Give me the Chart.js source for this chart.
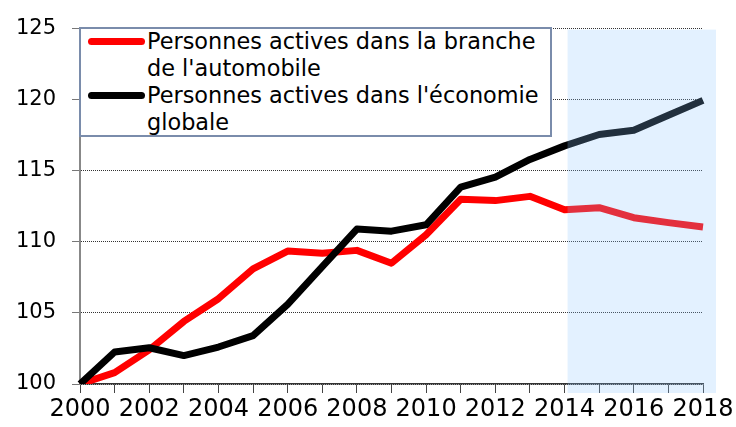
<!DOCTYPE html>
<html>
<head>
<meta charset="utf-8">
<script src="https://cdn.jsdelivr.net/npm/chart.js@4.4.1/dist/chart.umd.min.js"></script>
<style>
    html, body { margin: 0; padding: 0; background: #fff; }
    #wrap { position: relative; width: 736px; height: 427px; }
    #legend {
        position: absolute; left: 79px; top: 27px; width: 473px; height: 110px;
        box-sizing: border-box; border: 2px solid #7a8cab; background: #fff;
        font-family: "DejaVu Sans", sans-serif; font-size: 22.4px; line-height: 27px; color: #000;
    }
    .sw { position: absolute; left: 7px; width: 57px; height: 7px; border-radius: 4px; }
    .txt { position: absolute; left: 66px; white-space: nowrap; }
</style>
</head>
<body>
<div id="wrap">
    <canvas id="chart" width="736" height="427"></canvas>
    <div id="legend"></div>
</div>
<script>
(function () {
    "use strict";

    const years = ["2000", "2001", "2002", "2003", "2004", "2005", "2006", "2007", "2008", "2009",
        "2010", "2011", "2012", "2013", "2014", "2015", "2016", "2017", "2018"];
    const autoValues = [100, 100.8, 102.4, 104.4, 106.0, 108.1, 109.35, 109.2, 109.4, 108.5,
        110.5, 113.0, 112.9, 113.2, 112.25, 112.4, 111.7, 111.35, 111.05];
    const globalValues = [100, 102.25, 102.55, 102.0, 102.6, 103.4, 105.6, 108.25, 110.9, 110.75,
        111.2, 113.85, 114.55, 115.8, 116.75, 117.55, 117.85, 118.9, 119.95];
    const seriesLabels = [
        "Personnes actives dans la branche\nde l'automobile",
        "Personnes actives dans l'économie\nglobale",
    ];
    const seriesColors = ["#ff0000", "#000000"];
    const forecastStart = "2014";
    const forecastEnd = "2018";

    // Legend (html so the labels can wrap on two lines)
    const legendEl = document.getElementById("legend");
    seriesLabels.forEach(function (label, i) {
        const sw = document.createElement("div");
        sw.className = "sw";
        sw.style.background = seriesColors[i];
        sw.style.top = (9 + i * 54) + "px";
        legendEl.appendChild(sw);
        const txt = document.createElement("div");
        txt.className = "txt";
        txt.style.top = (-1 + i * 54) + "px";
        txt.innerHTML = label.split("\n").map(function (s) {
            return s.replace(/&/g, "&amp;").replace(/</g, "&lt;");
        }).join("<br>");
        legendEl.appendChild(txt);
    });

    // Light blue band over the forecast years
    const forecastBand = {
        id: "forecastBand",
        afterDatasetsDraw(chart) {
            const x = chart.scales.x;
            const area = chart.chartArea;
            const left = x.getPixelForValue(years.indexOf(forecastStart)) + 3;
            const right = x.getPixelForValue(years.indexOf(forecastEnd)) + 13;
            const ctx = chart.ctx;
            ctx.save();
            ctx.fillStyle = "rgba(140, 198, 255, 0.243)";
            ctx.fillRect(left, area.top + 1, right - left, area.bottom + 9 - area.top - 1);
            ctx.restore();
        },
    };

    const ctx = document.getElementById("chart").getContext("2d");

    new Chart(ctx, {
        type: "line",
        data: {
            labels: years,
            datasets: [
                {
                    label: seriesLabels[0],
                    data: autoValues,
                    borderColor: seriesColors[0],
                    borderWidth: 7,
                    pointRadius: 0,
                    borderJoinStyle: "round",
                    tension: 0,
                    order: 1,
                },
                {
                    label: seriesLabels[1],
                    data: globalValues,
                    borderColor: seriesColors[1],
                    borderWidth: 7,
                    pointRadius: 0,
                    borderJoinStyle: "round",
                    tension: 0,
                    order: 0,
                },
            ],
        },
        options: {
            responsive: false,
            animation: false,
            layout: {
                padding: { top: 22, right: 33, left: 0, bottom: 0 },
            },
            plugins: {
                legend: { display: false },
                tooltip: { enabled: false },
            },
            scales: {
                x: {
                    offset: false,
                    afterFit: function (scale) { scale.height = 43; },
                    ticks: {
                        autoSkip: false,
                        maxRotation: 0,
                        padding: 2,
                        color: "#000",
                        font: { family: "DejaVu Sans", size: 24 },
                        callback: function (value, index) {
                            return index % 2 === 0 ? years[index] : "";
                        },
                    },
                    grid: {
                        drawOnChartArea: false,
                        tickLength: 9,
                        tickColor: "#444",
                        tickWidth: 1,
                    },
                    border: { display: true, color: "#333", width: 1.5 },
                },
                y: {
                    min: 100,
                    max: 125,
                    afterFit: function (scale) { scale.width = 80; },
                    ticks: {
                        stepSize: 5,
                        padding: 16,
                        color: "#000",
                        font: { family: "DejaVu Sans", size: 21 },
                    },
                    grid: {
                        color: "#333",
                        lineWidth: 1,
                        tickLength: 8,
                        tickColor: "#777",
                        tickBorderDash: [],
                    },
                    border: { display: true, color: "#888", width: 2, dash: [1, 1] },
                },
            },
        },
        plugins: [forecastBand],
    });
})();
</script>
</body>
</html>
